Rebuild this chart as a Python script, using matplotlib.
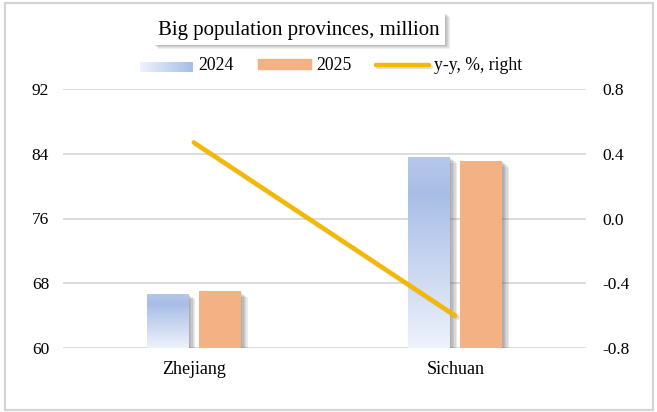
import numpy as np
import matplotlib
matplotlib.use('Agg')
import matplotlib.pyplot as plt
import matplotlib.patheffects as pe
from matplotlib.patches import Rectangle
from matplotlib.legend_handler import HandlerBase
from matplotlib.colors import LinearSegmentedColormap

# data
provinces = ['Zhejiang', 'Sichuan']
pop_2024 = [66.7, 83.6]
pop_2025 = [67.0, 83.1]
yoy = [0.47, -0.60]

left_ticks = [60, 68, 76, 84, 92]
right_ticks = [-0.8, -0.4, 0.0, 0.4, 0.8]

c_light = '#eef2fb'
c_blue = '#a9bee6'
c_orange = '#f4b183'
c_line = '#f5b800'
c_grid = '#d9d9d9'

plt.rcParams['font.family'] = ['Liberation Serif', 'DejaVu Serif']

fig = plt.figure(figsize=(6.57, 4.12), dpi=100)
fig.patch.set_facecolor('white')

# outer frame
fig.patches.append(Rectangle((5/657, 2/412), 648/657, 407/412, transform=fig.transFigure,
                             fill=False, edgecolor='#d4d4d4', lw=1.6, zorder=0))

ax = fig.add_axes([63/657, 64/412, 523/657, 259/412])
ax2 = ax.twinx()

x = np.arange(len(provinces))
w = 0.16
off = 0.1

# soft shadow made of a few faint offset copies
shadow = [pe.SimplePatchShadow(offset=(d, -d * 0.8), shadow_rgbFace='#606060', alpha=0.13)
          for d in (1, 2, 3, 4, 5)] + [pe.Normal()]

cmap = LinearSegmentedColormap.from_list('blu', [(0, c_light), (0.8, c_blue), (1.0, '#b6c8ea')])
grad = np.linspace(0, 1, 256).reshape(-1, 1)

bars1 = ax.bar(x - off, [v - 60 for v in pop_2024], w, bottom=60, color=c_blue, zorder=2)
for b in bars1:
    b.set_path_effects(shadow)
    x0, y0 = b.get_x(), b.get_y()
    im = ax.imshow(grad, cmap=cmap, origin='lower', aspect='auto',
                   extent=[x0, x0 + b.get_width(), y0, y0 + b.get_height()], zorder=3)
    im.set_clip_path(b)

bars2 = ax.bar(x + off, [v - 60 for v in pop_2025], w, bottom=60, color=c_orange, zorder=3)
for b in bars2:
    b.set_path_effects(shadow)

ax.set_xlim(-0.5, 1.5)
ax.set_ylim(60, 92)
ax.set_yticks(left_ticks)
ax.set_xticks(x)
ax.set_xticklabels(provinces)
ax.grid(axis='y', color=c_grid, lw=1.3, zorder=0)
ax.set_axisbelow(True)
for s in ax.spines.values():
    s.set_visible(False)
for s in ax2.spines.values():
    s.set_visible(False)
ax.tick_params(axis='y', length=0, pad=10, labelsize=12.5)
ax.tick_params(axis='x', length=0, pad=9.5, labelsize=13)

line, = ax2.plot(x, yoy, color=c_line, lw=3.2, solid_capstyle='round', zorder=5,
                 path_effects=[pe.SimpleLineShadow(offset=(1.5, -1.5), shadow_color='gray', alpha=0.25), pe.Normal()])
ax2.set_ylim(-0.8, 0.8)
ax2.set_yticks(right_ticks)
ax2.set_yticklabels(['%.1f' % t for t in right_ticks])
ax2.tick_params(axis='y', length=0, pad=12, labelsize=12.5)


class GradHandler(HandlerBase):
    def create_artists(self, legend, orig, xd, yd, width, height, fontsize, trans):
        n = 30
        arts = []
        for i in range(n):
            r = Rectangle((xd + width * i / n, yd), width / n + 0.3, height,
                          facecolor=cmap(0.8 * i / (n - 1)), edgecolor='none', transform=trans)
            arts.append(r)
        return arts


h1 = Rectangle((0, 0), 1, 1)
h2 = Rectangle((0, 0), 1, 1, color=c_orange)
leg = fig.legend([h1, h2, line], ['2024', '2025', 'y-y, %, right'],
                 handler_map={h1: GradHandler()},
                 loc='center', bbox_to_anchor=(331/657, 1 - 66/412), ncol=3, frameon=False,
                 fontsize=12.7, handlelength=3.0, handleheight=0.5, handletextpad=0.3,
                 columnspacing=1.4)

# title box with soft shadow
bx0, bx1, by0, by1 = 153, 445, 13, 45
for d in (1, 2, 3, 4, 5):
    fig.patches.append(Rectangle(((bx0 + d)/657, 1 - (by1 + d * 0.7)/412), (bx1 - bx0)/657, (by1 - by0)/412,
                                 transform=fig.transFigure, facecolor='#606060', alpha=0.1,
                                 edgecolor='none', zorder=1))
fig.patches.append(Rectangle((bx0/657, 1 - by1/412), (bx1 - bx0)/657, (by1 - by0)/412,
                             transform=fig.transFigure, facecolor='white',
                             edgecolor='none', zorder=2))
fig.text((bx0 + bx1) / 2 / 657, 1 - 30/412, 'Big population provinces, million',
         ha='center', va='center', fontsize=15, zorder=3)

fig.savefig('out.png', dpi=100)
